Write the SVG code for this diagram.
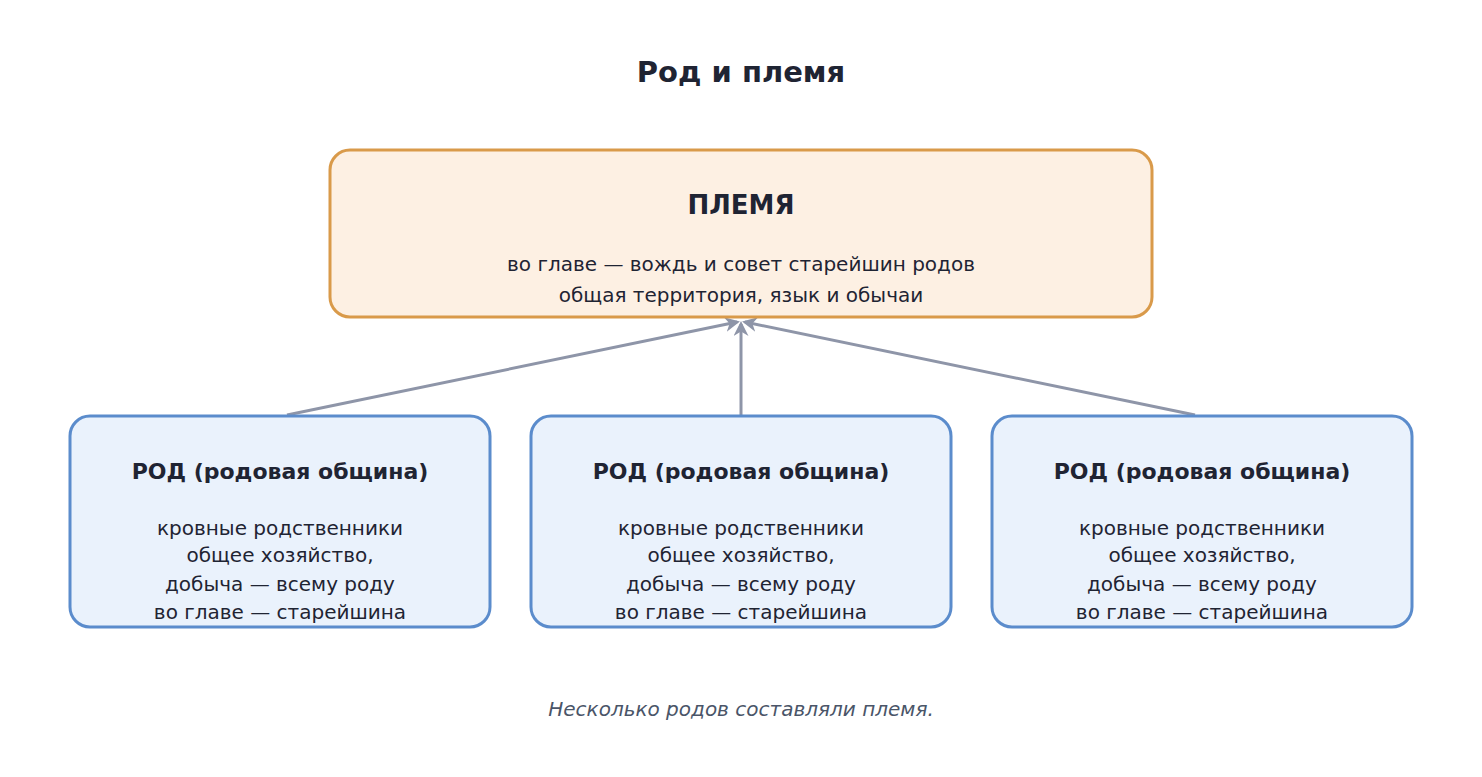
<svg xmlns="http://www.w3.org/2000/svg" width="1482" height="777" viewBox="0 0 1482 777">
<style>
text{font-family:"DejaVu Sans",sans-serif;text-anchor:middle;fill:#1f2433}
.t{font-size:20px}
.h{font-size:22px;font-weight:bold}
.rod{fill:#eaf2fc;stroke:#5b8ccc;stroke-width:3}
.c{stroke:#8e95a8;stroke-width:3;fill:none;marker-end:url(#a)}
</style>
<defs><marker id="a" viewBox="0 0 10 10" refX="8" refY="5" markerWidth="5" markerHeight="5" orient="auto"><path d="M0,0 L10,5 L0,10 L3,5 z" fill="#8e95a8"/></marker></defs>
<rect width="1482" height="777" fill="#fff"/>
<text x="741" y="82" style="font-size:29px;font-weight:bold">Род и племя</text>
<g id="connectors">
<line class="c" x1="287" y1="415" x2="737" y2="322"/>
<line class="c" x1="741" y1="415" x2="741" y2="324"/>
<line class="c" x1="1195" y1="415" x2="745" y2="322"/>
</g>
<g id="tribe">
<rect x="330" y="150" width="822" height="167" rx="20" fill="#fdf0e3" stroke="#d99a4a" stroke-width="3"/>
<text x="741" y="214" style="font-size:26px;font-weight:bold">ПЛЕМЯ</text>
<text class="t" x="741" y="271">во главе — вождь и совет старейшин родов</text>
<text class="t" x="741" y="302">общая территория, язык и обычаи</text>
</g>
<g id="rod1">
<rect class="rod" x="70" y="416" width="420" height="211" rx="20"/>
<text class="h" x="280" y="479">РОД (родовая община)</text>
<text class="t" x="280" y="535">кровные родственники</text>
<text class="t" x="280" y="562">общее хозяйство,</text>
<text class="t" x="280" y="591">добыча — всему роду</text>
<text class="t" x="280" y="619">во главе — старейшина</text>
</g>
<g id="rod2">
<rect class="rod" x="531" y="416" width="420" height="211" rx="20"/>
<text class="h" x="741" y="479">РОД (родовая община)</text>
<text class="t" x="741" y="535">кровные родственники</text>
<text class="t" x="741" y="562">общее хозяйство,</text>
<text class="t" x="741" y="591">добыча — всему роду</text>
<text class="t" x="741" y="619">во главе — старейшина</text>
</g>
<g id="rod3">
<rect class="rod" x="992" y="416" width="420" height="211" rx="20"/>
<text class="h" x="1202" y="479">РОД (родовая община)</text>
<text class="t" x="1202" y="535">кровные родственники</text>
<text class="t" x="1202" y="562">общее хозяйство,</text>
<text class="t" x="1202" y="591">добыча — всему роду</text>
<text class="t" x="1202" y="619">во главе — старейшина</text>
</g>
<text x="741" y="716" style="font-size:20px;font-style:italic;fill:#4a5568">Несколько родов составляли племя.</text>
</svg>
